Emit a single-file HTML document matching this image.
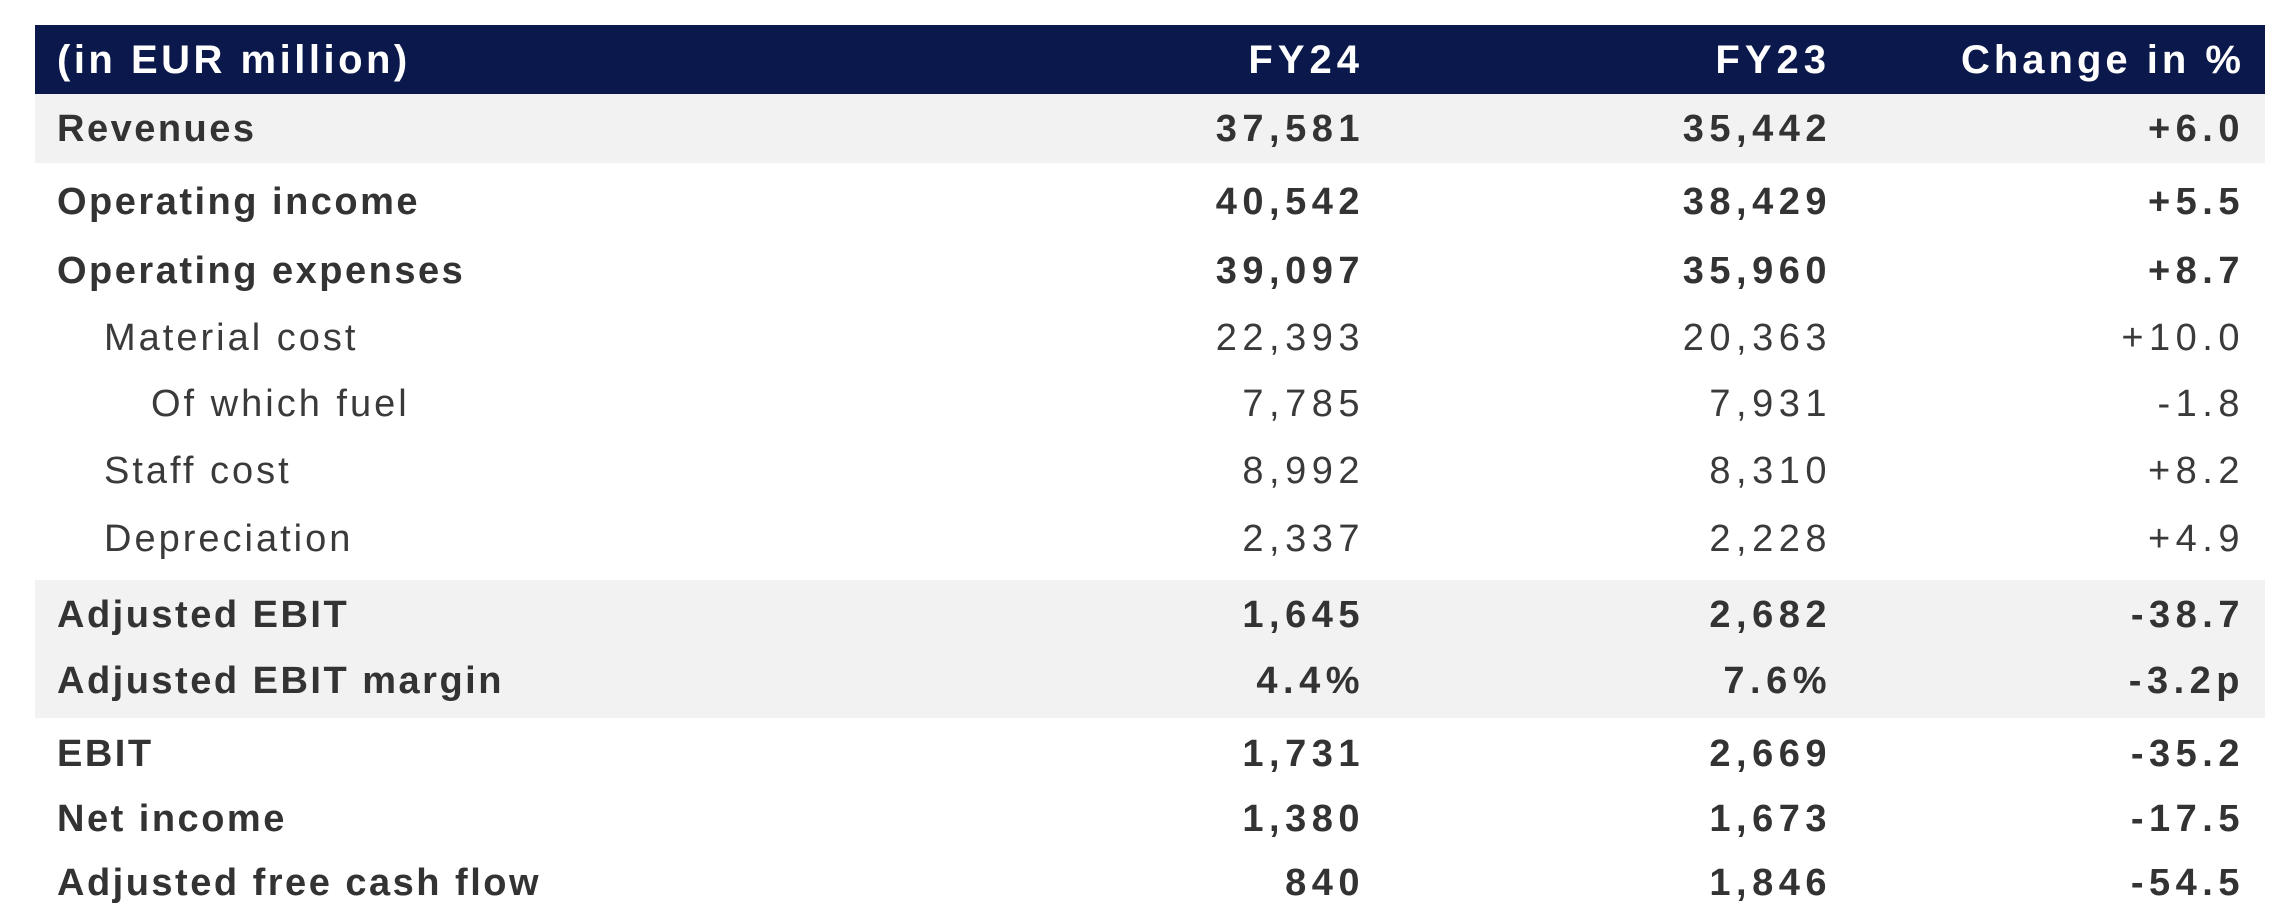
<!DOCTYPE html>
<html><head><meta charset="utf-8"><style>
body{margin:0;width:2296px;height:924px;background:#fff;position:relative;overflow:hidden;font-family:"Liberation Sans",Arial,sans-serif;color:#333}
.band{position:absolute;left:35px;width:2230px}
.t{position:absolute;white-space:nowrap;line-height:1;transform:translateY(-50%)}
.b{font-weight:bold;font-size:38px;letter-spacing:2.5px}
.n{font-weight:normal;font-size:38px;color:#3a3a3a;letter-spacing:3px}
.v{letter-spacing:5.5px}
.h{color:#fff;font-weight:bold;font-size:40px;letter-spacing:3.5px}
.c1{right:931px}.c2{right:464px}.c3{right:51px}
</style></head><body>
<div class="band" style="top:25px;height:69px;background:#0b184b"></div>
<div class="band" style="top:94px;height:69px;background:#f2f2f2"></div>
<div class="band" style="top:580px;height:138px;background:#f2f2f2"></div>
<div class="t h" style="left:57px;top:60px">(in EUR million)</div>
<div class="t h" style="top:60px;letter-spacing:5px;right:932px">FY24</div>
<div class="t h" style="top:60px;letter-spacing:5px;right:465px">FY23</div>
<div class="t h" style="top:60px;letter-spacing:4px;right:51px">Change in %</div>

<div class="t b" style="left:57px;top:129px">Revenues</div>
<div class="t b v c1" style="top:129px">37,581</div>
<div class="t b v c2" style="top:129px">35,442</div>
<div class="t b v c3" style="top:129px">+6.0</div>

<div class="t b" style="left:57px;top:202px">Operating income</div>
<div class="t b v c1" style="top:202px">40,542</div>
<div class="t b v c2" style="top:202px">38,429</div>
<div class="t b v c3" style="top:202px">+5.5</div>

<div class="t b" style="left:57px;top:271px">Operating expenses</div>
<div class="t b v c1" style="top:271px">39,097</div>
<div class="t b v c2" style="top:271px">35,960</div>
<div class="t b v c3" style="top:271px">+8.7</div>

<div class="t n" style="left:104px;top:338px">Material cost</div>
<div class="t n v c1" style="top:338px">22,393</div>
<div class="t n v c2" style="top:338px">20,363</div>
<div class="t n v c3" style="top:338px">+10.0</div>

<div class="t n" style="left:151px;top:404px">Of which fuel</div>
<div class="t n v c1" style="top:404px">7,785</div>
<div class="t n v c2" style="top:404px">7,931</div>
<div class="t n v c3" style="top:404px">-1.8</div>

<div class="t n" style="left:104px;top:471px">Staff cost</div>
<div class="t n v c1" style="top:471px">8,992</div>
<div class="t n v c2" style="top:471px">8,310</div>
<div class="t n v c3" style="top:471px">+8.2</div>

<div class="t n" style="left:104px;top:539px">Depreciation</div>
<div class="t n v c1" style="top:539px">2,337</div>
<div class="t n v c2" style="top:539px">2,228</div>
<div class="t n v c3" style="top:539px">+4.9</div>

<div class="t b" style="left:57px;top:615px">Adjusted EBIT</div>
<div class="t b v c1" style="top:615px">1,645</div>
<div class="t b v c2" style="top:615px">2,682</div>
<div class="t b v c3" style="top:615px">-38.7</div>

<div class="t b" style="left:57px;top:681px">Adjusted EBIT margin</div>
<div class="t b v c1" style="top:681px">4.4%</div>
<div class="t b v c2" style="top:681px">7.6%</div>
<div class="t b v c3" style="top:681px">-3.2p</div>

<div class="t b" style="left:57px;top:754px">EBIT</div>
<div class="t b v c1" style="top:754px">1,731</div>
<div class="t b v c2" style="top:754px">2,669</div>
<div class="t b v c3" style="top:754px">-35.2</div>

<div class="t b" style="left:57px;top:819px">Net income</div>
<div class="t b v c1" style="top:819px">1,380</div>
<div class="t b v c2" style="top:819px">1,673</div>
<div class="t b v c3" style="top:819px">-17.5</div>

<div class="t b" style="left:57px;top:883px">Adjusted free cash flow</div>
<div class="t b v c1" style="top:883px">840</div>
<div class="t b v c2" style="top:883px">1,846</div>
<div class="t b v c3" style="top:883px">-54.5</div>
</body></html>
